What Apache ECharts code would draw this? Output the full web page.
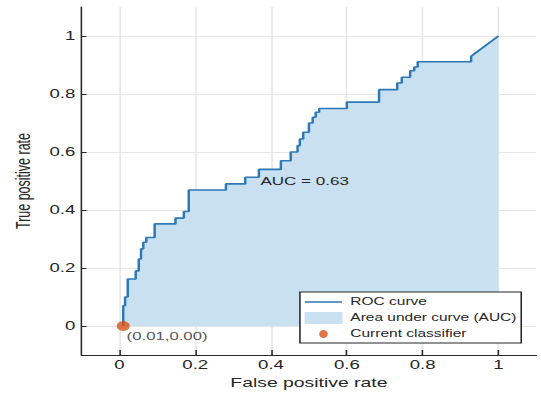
<!DOCTYPE html>
<html>
<head>
<meta charset="utf-8">
<script src="https://cdn.jsdelivr.net/npm/echarts@6/dist/echarts.min.js"></script>
<style>
  html, body { margin: 0; padding: 0; background: #fff; overflow: hidden; }
  /* the source picture is stretched sideways, so draw narrow and stretch it */
  #chart { width: 349px; height: 396px; transform: scaleX(1.5501); transform-origin: 0 0; }
</style>
</head>
<body>
<div id="chart"></div>
<script>
// === Data
const FPR = [
  0.010, 0.010, 0.015, 0.015, 0.022, 0.022, 0.043, 0.043, 0.051, 0.051,
  0.057, 0.057, 0.063, 0.063, 0.071, 0.071, 0.093, 0.093, 0.148, 0.148,
  0.170, 0.170, 0.183, 0.183, 0.281, 0.281, 0.332, 0.332, 0.368, 0.368,
  0.426, 0.426, 0.452, 0.452, 0.470, 0.470, 0.476, 0.476, 0.485, 0.485,
  0.500, 0.500, 0.510, 0.510, 0.518, 0.518, 0.527, 0.527, 0.600, 0.600,
  0.685, 0.685, 0.733, 0.733, 0.745, 0.745, 0.767, 0.767, 0.778, 0.778,
  0.787, 0.787, 0.928, 0.928, 1.000
];
const TPR = [
  0.000, 0.070, 0.070, 0.100, 0.100, 0.162, 0.162, 0.190, 0.190, 0.231,
  0.231, 0.266, 0.266, 0.289, 0.289, 0.305, 0.305, 0.352, 0.352, 0.372,
  0.372, 0.395, 0.395, 0.469, 0.469, 0.490, 0.490, 0.513, 0.513, 0.540,
  0.540, 0.570, 0.570, 0.600, 0.600, 0.622, 0.622, 0.645, 0.645, 0.668,
  0.668, 0.700, 0.700, 0.720, 0.720, 0.737, 0.737, 0.750, 0.750, 0.772,
  0.772, 0.815, 0.815, 0.838, 0.838, 0.858, 0.858, 0.880, 0.880, 0.893,
  0.893, 0.911, 0.911, 0.930, 1.000
];
const TICKS = [0, 0.2, 0.4, 0.6, 0.8, 1];
const CLASSIFIER = [0.01, 0.00];
const AUC = 0.63;
const AUC_LABEL_POS = [0.372, 0.5];

// === Styles
const FONT = "'Liberation Sans', Arial, sans-serif";
const TEXT_COLOR = '#262626';
const LINE_COLOR = '#2d78b5';
const AREA_COLOR = '#c8e0f0';
const DOT_COLOR = '#d95319';

const rocPoints = FPR.map((x, i) => [x, TPR[i]]);

function makeAxis(name, nameGap, tickLength) {
    return {
        type: 'value',
        min: -0.1,
        max: 1.1,
        name: name,
        nameLocation: 'middle',
        nameGap: nameGap,
        nameTextStyle: { fontFamily: FONT, fontSize: 12.5, color: TEXT_COLOR },
        axisLine: { show: true, onZero: false, lineStyle: { color: TEXT_COLOR, width: 1 } },
        axisTick: { show: true, inside: true, length: tickLength, customValues: TICKS,
                    lineStyle: { color: TEXT_COLOR } },
        axisLabel: { customValues: TICKS, margin: 4, fontFamily: FONT, fontSize: 12, color: TEXT_COLOR },
        splitLine: { show: true, lineStyle: { color: '#e6e6e6', width: 1 } }
    };
}

const chart = echarts.init(document.getElementById('chart'), null, { renderer: 'svg' });

chart.setOption({
    animation: false,
    backgroundColor: '#fff',
    grid: { left: 45.2, right: 3, top: 7, bottom: 41 },
    xAxis: makeAxis('False positive rate', 18, 5),
    yAxis: makeAxis('True positive rate', 27, 3.2),
    legend: {
        orient: 'vertical',
        left: 193.5,
        top: 292,
        padding: [4, 3, 3, 3],
        itemWidth: 24.5,
        itemHeight: 12,
        itemGap: 4,
        backgroundColor: '#fff',
        borderColor: TEXT_COLOR,
        borderWidth: 1,
        borderRadius: 0,
        selectedMode: false,
        textStyle: { fontFamily: FONT, fontSize: 10, color: TEXT_COLOR },
        data: [
            { name: 'ROC curve', icon: 'path://M0,0L0.1,0M0,5.2L24,5.2L24,6.8L0,6.8ZM24,12L24.1,12' },
            { name: 'Area under curve (AUC)', icon: 'rect' },
            { name: 'Current classifier', icon: 'path://M0,0L0.1,0M24,12L24.1,12M9.2,6a2.8,4 0 1,0 5.6,0a2.8,4 0 1,0 -5.6,0Z' }
        ]
    },
    series: [
        {
            name: 'Area under curve (AUC)',
            type: 'line',
            data: rocPoints,
            symbol: 'none',
            color: AREA_COLOR,
            lineStyle: { width: 0 },
            areaStyle: { color: AREA_COLOR, opacity: 1 },
            silent: true
        },
        {
            name: 'ROC curve',
            type: 'line',
            data: rocPoints,
            symbol: 'none',
            color: LINE_COLOR,
            lineStyle: { width: 1.6, color: LINE_COLOR },
            silent: true,
            markPoint: {
                symbol: 'circle',
                symbolSize: 0,
                silent: true,
                label: {
                    show: true,
                    position: 'right',
                    distance: 0,
                    formatter: 'AUC = ' + AUC.toFixed(2),
                    fontFamily: FONT,
                    fontSize: 11,
                    color: TEXT_COLOR
                },
                data: [{ coord: AUC_LABEL_POS }]
            }
        },
        {
            name: 'Current classifier',
            type: 'scatter',
            data: [CLASSIFIER],
            symbolSize: [8.4, 10],
            color: DOT_COLOR,
            z: 5,
            silent: true,
            label: {
                show: true,
                position: 'right',
                distance: 5,
                offset: [-7, 10],
                formatter: '(' + CLASSIFIER[0].toFixed(2) + ',' + CLASSIFIER[1].toFixed(2) + ')',
                fontFamily: FONT,
                fontSize: 10.8,
                color: TEXT_COLOR
            }
        }
    ]
});
</script>
</body>
</html>
